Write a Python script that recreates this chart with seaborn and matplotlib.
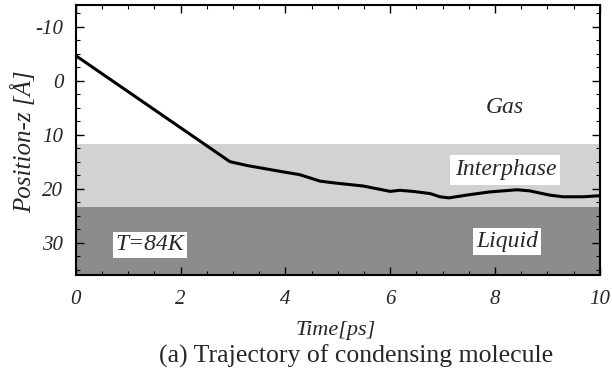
import matplotlib
matplotlib.use("Agg")
import matplotlib.pyplot as plt
import seaborn as sns
import pandas as pd
from matplotlib.ticker import MultipleLocator

sns.set_theme(style="white")
plt.rcParams['font.family'] = ['Liberation Serif', 'DejaVu Serif']
plt.rcParams['axes.unicode_minus'] = False

# Data
time_ps = [0, 2.94, 3.26, 3.9, 4.27, 4.66, 4.9, 5.48, 5.74, 6.0, 6.18, 6.43,
           6.76, 6.95, 7.12, 7.52, 7.9, 8.42, 8.66, 9.05, 9.3, 9.68, 10]
position_z = [-4.6, 15.0, 15.7, 16.8, 17.4, 18.6, 18.9, 19.5, 20.0, 20.5, 20.3,
              20.5, 20.9, 21.5, 21.7, 21.1, 20.6, 20.2, 20.4, 21.2, 21.5, 21.5, 21.3]

gas_interphase_boundary = 11.7
interphase_liquid_boundary = 23.4
y_limits = (36, -14)
x_limits = (0, 10)
x_ticks = [0, 2, 4, 6, 8, 10]
y_ticks = [-10, 0, 10, 20, 30]

df = pd.DataFrame({"Time": time_ps, "Position": position_z})

fig = plt.figure(figsize=(6.12, 3.79), dpi=100)
ax = fig.add_axes([0.124, 0.274, 0.856, 0.713])

ax.axhspan(gas_interphase_boundary, interphase_liquid_boundary, color="#d2d2d2", lw=0, zorder=0)
ax.axhspan(interphase_liquid_boundary, y_limits[0], color="#8c8c8c", lw=0, zorder=0)

sns.lineplot(data=df, x="Time", y="Position", ax=ax, color="black", lw=2.2,
             estimator=None, sort=False, zorder=3)

ax.set_xlim(*x_limits)
ax.set_ylim(*y_limits)
ax.set_xticks(x_ticks)
ax.set_yticks(y_ticks)
ax.xaxis.set_minor_locator(MultipleLocator(0.5))
ax.yaxis.set_minor_locator(MultipleLocator(2.5))
ax.tick_params(which="both", direction="in", top=True, right=True, bottom=True, left=True,
               color="black")
ax.tick_params(which="major", length=6, width=1.0)
ax.tick_params(which="minor", length=3, width=0.8)
ax.tick_params(axis="x", which="major", pad=11, labelsize=15)
ax.tick_params(axis="y", which="major", pad=9, labelsize=15)
for lab in ax.get_xticklabels() + ax.get_yticklabels():
    lab.set_fontstyle("italic")
for sp in ax.spines.values():
    sp.set_color("black")
    sp.set_linewidth(1.5)

ax.set_xlabel("")
ax.set_ylabel("")
fig.text(24 / 612, 1 - 142 / 379, "Position-z [Å]", fontsize=18, fontstyle="italic",
         rotation=90, ha="center", va="center")

ax.text(8.19, 4.9, "Gas", fontsize=17, fontstyle="italic", ha="center", va="center")
ax.text(8.2, 16.5, "Interphase", fontsize=17, fontstyle="italic", ha="center", va="center",
        bbox=dict(facecolor="white", edgecolor="none", pad=3))
ax.text(8.23, 29.8, "Liquid", fontsize=17, fontstyle="italic", ha="center", va="center",
        bbox=dict(facecolor="white", edgecolor="none", pad=2))
ax.text(1.41, 30.4, "T=84K", fontsize=17, fontstyle="italic", ha="center", va="center",
        bbox=dict(facecolor="white", edgecolor="none", pad=2))

fig.text(336 / 612, 1 - 331 / 379, "Time[ps]", fontsize=16, fontstyle="italic",
         ha="center", va="center")
fig.text(356 / 612, 1 - 356 / 379, "(a) Trajectory of condensing molecule", fontsize=18.5,
         ha="center", va="center")

fig.savefig("out.png", dpi=100)
